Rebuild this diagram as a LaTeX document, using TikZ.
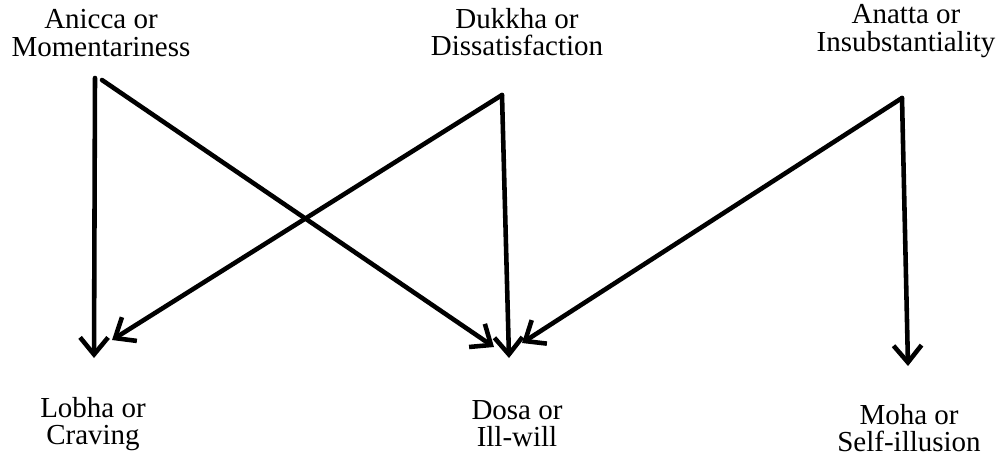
\documentclass[tikz,border=0pt]{standalone}
\usepackage{fontspec}
\setmainfont{Liberation Serif}
\usetikzlibrary{arrows.meta}

\begin{document}
\begin{tikzpicture}[x=0.02cm,y=-0.02cm,
      term/.style={align=center,inner sep=0pt,font=\fontsize{16.5}{15.5}\selectfont},
      arr/.style={-{Straight Barb[length=0.34cm,width=0.56cm,line width=2.6pt]},line width=2.6pt,line cap=round}]
    \useasboundingbox (0,0) rectangle (1003,458);
    % the three marks of existence
    \node[term] (anicca) at (101,33) {Anicca or\\Momentariness};
    \node[term] (dukkha) at (517,32) {Dukkha or\\Dissatisfaction};
    \node[term] (anatta) at (906,31) {Anatta or\\Insubstantiality};
    % the three roots
    \node[term] (lobha) at (93,424) {Lobha or\\Craving};
    \node[term] (dosa)  at (517,424) {Dosa or\\Ill-will};
    \node[term] (moha)  at (909,428) {Moha or\\Self-illusion};
    % start and end points
    \coordinate (aniccaA) at (95,78);
    \coordinate (aniccaB) at (102,80);
    \coordinate (dukkhaV) at (502,95);
    \coordinate (anattaV) at (902,98);
    \coordinate (lobhaT) at (94,358);
    \coordinate (lobhaD) at (112,340);
    \coordinate (dosaL) at (494,347);
    \coordinate (dosaT) at (509,358);
    \coordinate (dosaR) at (522,343);
    \coordinate (mohaT) at (908,366);
    \draw[arr] (aniccaA) -- (lobhaT);
    \draw[arr] (aniccaB) -- (dosaL);
    \draw[arr] (dukkhaV) -- (lobhaD);
    \draw[arr] (dukkhaV) -- (dosaT);
    \draw[arr] (anattaV) -- (dosaR);
    \draw[arr] (anattaV) -- (mohaT);
  \end{tikzpicture}
\end{document}
